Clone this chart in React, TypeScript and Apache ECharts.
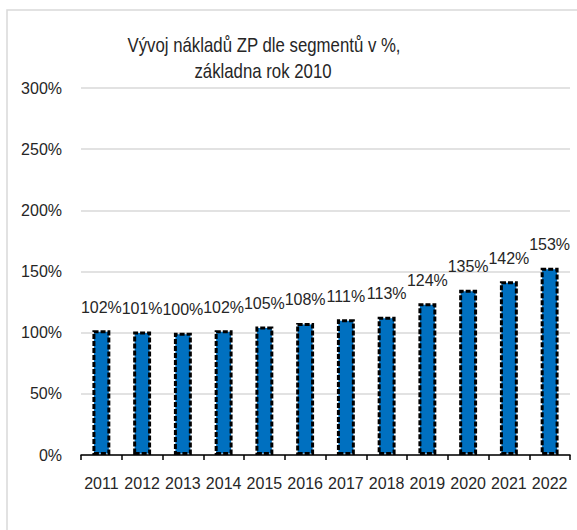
import React, { useEffect, useRef } from "react";
import * as echarts from "echarts";

const years = ["2011", "2012", "2013", "2014", "2015", "2016", "2017", "2018", "2019", "2020", "2021", "2022"];
const values = [102, 101, 100, 102, 105, 108, 111, 113, 124, 135, 142, 153];
const titleLines = ["Vývoj nákladů ZP dle segmentů v %,", "základna rok 2010"];

const FONT = "'Liberation Sans', Arial, sans-serif";

export default function App() {
  const ref = useRef<HTMLDivElement>(null);
  useEffect(() => {
    if (!ref.current) return;
    const chart = echarts.init(ref.current, undefined, { renderer: "svg" });
    chart.setOption({
      animation: false,
      backgroundColor: "#ffffff",
      graphic: [
        {
          type: "rect",
          shape: { x: 7, y: 10, width: 600, height: 560 },
          style: { fill: "none", stroke: "#d9d9d9", lineWidth: 1.5 },
          silent: true,
          z: -1,
        },
        {
          type: "text",
          x: 264,
          y: 45,
          scaleX: 0.84,
          style: {
            text: titleLines[0],
            font: `20px ${FONT}`,
            fill: "#262626",
            textAlign: "center",
            textVerticalAlign: "middle",
          },
        },
        {
          type: "text",
          x: 263,
          y: 71,
          scaleX: 0.84,
          style: {
            text: titleLines[1],
            font: `20px ${FONT}`,
            fill: "#262626",
            textAlign: "center",
            textVerticalAlign: "middle",
          },
        },
      ],
      grid: { left: 81, right: 7, top: 88, bottom: 75, containLabel: false },
      xAxis: {
        type: "category",
        data: years,
        axisLine: { lineStyle: { color: "#000000", width: 1.5 } },
        axisTick: { show: true, length: 5, lineStyle: { color: "#000000", width: 1.5 } },
        axisLabel: { fontFamily: FONT, fontSize: 16, color: "#262626", margin: 20, interval: 0 },
      },
      yAxis: {
        type: "value",
        min: 0,
        max: 300,
        interval: 50,
        axisLine: { show: false },
        axisTick: { show: false },
        splitLine: { lineStyle: { color: "#d9d9d9", width: 1.5 } },
        axisLabel: { fontFamily: FONT, fontSize: 16, color: "#262626", margin: 19, formatter: "{value}%" },
      },
      series: [
        {
          type: "bar",
          data: values,
          barWidth: "44%",
          itemStyle: {
            color: "#0070C0",
            borderColor: "#000000",
            borderWidth: 3,
            borderType: [5, 2],
          },
          label: {
            show: true,
            position: "top",
            distance: 15,
            formatter: "{c}%",
            fontFamily: FONT,
            fontSize: 16,
            color: "#262626",
          },
        },
      ],
    });
    return () => chart.dispose();
  }, []);
  return <div ref={ref} style={{ position: "fixed", left: 0, top: 0, width: 577, height: 530 }} />;
}
